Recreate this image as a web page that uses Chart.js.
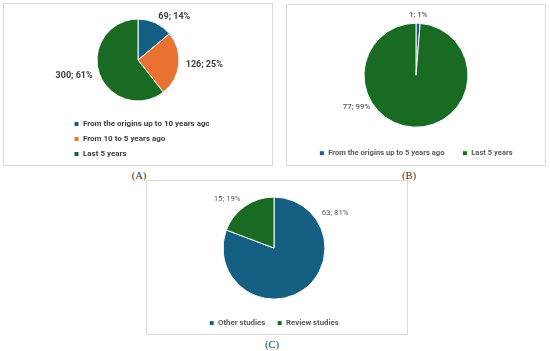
<!DOCTYPE html>
<html>
<head>
<meta charset="utf-8">
<script src="https://cdn.jsdelivr.net/npm/chart.js@4.4.1/dist/chart.umd.min.js"></script>
<style>
  body { margin: 0; background: #fff; width: 550px; height: 351px; position: relative; overflow: hidden; }
  .panel { position: absolute; box-sizing: border-box; border: 1px solid #d9d9d9; }
  .panel canvas { position: absolute; left: 0; top: 0; }
  .tag { position: absolute; font: normal 10.5px "Liberation Serif", serif; color: #333; transform: translate(-50%, -50%); }
</style>
</head>
<body>

<div class="panel" style="left:3px;top:3px;width:270px;height:163px;">
  <div style="position:absolute;left:0;top:0;width:268px;height:164px;"><canvas id="chartA"></canvas></div>
</div>
<div class="tag" style="left:139px;top:175px;">(A)</div>

<div class="panel" style="left:286px;top:4px;width:260px;height:162px;">
  <div style="position:absolute;left:0;top:0;width:258px;height:162px;"><canvas id="chartB"></canvas></div>
</div>
<div class="tag" style="left:409px;top:175px;">(B)</div>

<div class="panel" style="left:146px;top:180px;width:262px;height:155px;">
  <div style="position:absolute;left:0;top:0;width:260px;height:156px;"><canvas id="chartC"></canvas></div>
</div>
<div class="tag" style="left:272px;top:344px;">(C)</div>

<script>
// Panel A: studies by period
const periodLabelsA = ['From the origins up to 10 years ago', 'From 10 to 5 years ago', 'Last 5 years'];
const periodCountsA = [69, 126, 300];

// Panel B
const periodLabelsB = ['From the origins up to 5 years ago', 'Last 5 years'];
const periodCountsB = [1, 77];

// Panel C
const studyLabelsC = ['Other studies', 'Review studies'];
const studyCountsC = [63, 15];

const BLUE = '#156082';
const ORANGE = '#E97132';
const GREEN = '#196B24';
const FONT = 'Roboto, "Noto Sans", sans-serif';

// draws "value; pct%" outside each slice
const sliceLabels = {
  id: 'sliceLabels',
  afterDatasetsDraw(chart, args, opts) {
    const ctx = chart.ctx;
    const meta = chart.getDatasetMeta(0);
    const values = chart.data.datasets[0].data;
    const total = values.reduce((s, v) => s + v, 0);
    ctx.save();
    ctx.font = opts.font;
    ctx.fillStyle = opts.color;
    meta.data.forEach((arc, i) => {
      const p = arc.getProps(['x', 'y', 'startAngle', 'endAngle', 'outerRadius'], true);
      let theta; // clockwise from 12 o'clock
      if (opts.angles && opts.angles[i] != null) {
        theta = opts.angles[i] * Math.PI / 180;
      } else {
        theta = (p.startAngle + p.endAngle) / 2 + Math.PI / 2;
      }
      const s = Math.sin(theta), c = Math.cos(theta);
      const d = p.outerRadius + opts.pad;
      const x = p.x + d * s;
      const y = p.y - d * c;
      if (s > 0.3) { ctx.textAlign = 'left'; ctx.textBaseline = 'middle'; }
      else if (s < -0.3) { ctx.textAlign = 'right'; ctx.textBaseline = 'middle'; }
      else { ctx.textAlign = 'center'; ctx.textBaseline = c > 0 ? 'bottom' : 'top'; }
      const pct = Math.round(values[i] / total * 100);
      ctx.fillText(values[i] + '; ' + pct + '%', x, y);
    });
    ctx.restore();
  }
};

function makePie(id, labels, counts, colors, cfg) {
  return new Chart(document.getElementById(id), {
    type: 'pie',
    data: {
      labels: labels,
      datasets: [{
        data: counts,
        backgroundColor: colors,
        borderColor: '#ffffff',
        borderWidth: 1,
        radius: cfg.radius
      }]
    },
    plugins: [sliceLabels],
    options: {
      responsive: true,
      maintainAspectRatio: false,
      animation: false,
      layout: { padding: cfg.padding },
      plugins: {
        tooltip: { enabled: false },
        legend: {
          display: true,
          position: 'bottom',
          align: cfg.legendAlign,
          labels: {
            boxWidth: 5,
            boxHeight: 5,
            padding: cfg.legendPad,
            color: cfg.legendColor,
            font: { family: FONT, size: cfg.legendSize, weight: cfg.legendWeight }
          }
        },
        sliceLabels: cfg.labels
      }
    }
  });
}

makePie('chartA', periodLabelsA, periodCountsA, [BLUE, ORANGE, GREEN], {
  radius: 41,
  padding: { left: 63, right: 63, top: 3, bottom: 0 },
  legendAlign: 'start',
  legendPad: 7,
  legendSize: 8,
  legendWeight: 'bold',
  legendColor: '#404040',
  labels: { font: 'bold 9px ' + FONT, color: '#404040', pad: 7 }
});

makePie('chartB', periodLabelsB, periodCountsB, [BLUE, GREEN], {
  radius: 52,
  padding: { left: 0, right: 0, top: 14, bottom: 0 },
  legendAlign: 'center',
  legendPad: 18,
  legendSize: 7.6,
  legendWeight: 'bold',
  legendColor: '#595959',
  labels: { font: '500 7.8px ' + FONT, color: '#595959', pad: 4, angles: [null, 235] }
});

makePie('chartC', studyLabelsC, studyCountsC, [BLUE, GREEN], {
  radius: 51,
  padding: { left: 0, right: 6, top: 8, bottom: 0 },
  legendAlign: 'center',
  legendPad: 12,
  legendSize: 7.8,
  legendWeight: 'bold',
  legendColor: '#595959',
  labels: { font: '7.8px ' + FONT, color: '#595959', pad: 8, angles: [54, null] }
});
</script>
</body>
</html>
